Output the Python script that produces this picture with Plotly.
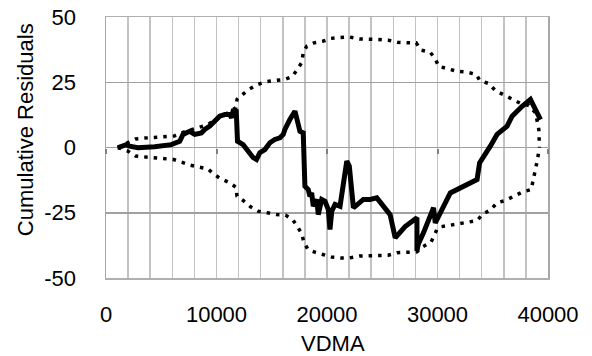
import plotly.graph_objects as go

# Cumulative residuals (solid line)
res_x = [1070, 1830, 2130, 2880, 4400, 5910, 6670, 6970, 7570, 8030, 8630, 8930, 9390, 9840,
         10290, 10750, 11200, 11360, 11500, 11790, 11900, 12410, 12860, 13320, 13620, 13920,
         14380, 14830, 15280, 15740, 16040, 16190, 16640, 17100, 17250, 17550, 17850, 18000,
         18300, 18460, 18610, 18760, 19070, 19210, 19520, 19820, 20120, 20270, 20430, 20730,
         21180, 21480, 21790, 22020, 22390, 23290, 23900, 24510, 25710, 26170, 27070, 28140,
         28140, 28250, 28730, 29640, 29800, 30550, 31160, 33580, 33810, 34780, 35390, 36300,
         36750, 37660, 38410, 39320]
res_y = [-0.1, 1.1, 0.5, -0.1, 0.3, 1.1, 2.4, 5.0, 6.2, 5.0, 5.6, 6.9, 8.2, 10.1,
         12.0, 12.6, 12.6, 11.4, 13.9, 13.8, 2.4, 1.1, -1.4, -3.9, -4.6, -2.0,
         -0.8, 1.8, 3.1, 3.7, 5.0, 6.9, 10.7, 13.9, 11.4, 6.2, 5.6, -14.8,
         -16.1, -18.7, -17.4, -22.5, -19.9, -25.7, -19.9, -20.6, -23.8, -31.4, -24.4, -21.8,
         -22.5, -14.8, -5.2, -7.2, -23.1, -19.9, -19.9, -19.3, -25.7, -34.6, -30.3, -26.9,
         -39.7, -37.2, -32.7, -23.1, -28.9, -22.5, -17.4, -12.3, -5.9, 0.5, 5.0, 8.2,
         12.0, 15.8, 18.4, 10.7]

# Upper bound (dotted)
up_x = [1070, 2680, 3490, 4400, 5310, 6170, 6820, 7570, 8420, 9230, 10140, 11050, 11750,
        11860, 12350, 13020, 13680, 14470, 15350, 16190, 16890, 17310, 17710, 17850, 18160,
        18820, 19610, 20340, 21120, 21930, 22930, 23810, 24650, 25560, 26380, 27230, 28070,
        28500, 29340, 29800, 30100, 30910, 31760, 32610, 33510, 33810, 34630, 35240, 35940,
        36660, 37510, 38260, 38870, 39020, 39170, 39200, 39230]
up_y = [0, 3.3, 3.6, 3.9, 4.1, 4.4, 5.6, 6.6, 7.5, 8.8, 11.4, 13.3, 15.2,
        18.4, 20.3, 22.5, 24.1, 25.2, 25.7, 26.1, 27.3, 29.9, 32.5, 36.3, 38.8,
        40.1, 40.7, 41.8, 42.1, 42.4, 41.6, 41.6, 41.4, 41.1, 40.3, 40.1, 40.1,
        37.3, 36.5, 34.0, 31.1, 30.2, 29.2, 28.9, 28.0, 25.8, 24.5, 21.8, 20.3,
        18.7, 16.9, 16.1, 13.3, 10.1, 6.9, 3.1, 0]

# Lower bound (dotted)
lo_x = [1070, 1980, 2680, 3520, 4430, 5310, 6120, 6850, 7640, 8420, 9230, 9780, 10360,
        11050, 11750, 11860, 12410, 13080, 13770, 14590, 15440, 16250, 16890, 17340, 17710,
        17910, 18280, 18960, 19730, 20430, 21210, 22040, 22920, 23810, 24650, 25530, 26350,
        27230, 28140, 28680, 29410, 29950, 30250, 31000, 31910, 32760, 33580, 34120, 34780,
        35390, 36140, 36900, 37660, 38480, 38660, 38870, 39020, 39230]
lo_y = [0, -1.4, -3.3, -3.6, -3.9, -4.2, -4.6, -5.6, -6.8, -7.5, -8.2, -10.3, -11.9,
        -13.2, -15.2, -18.7, -20.3, -22.7, -24.4, -25.0, -25.7, -25.9, -27.6, -30.4, -33.0,
        -36.3, -39.1, -40.2, -41.0, -42.0, -42.3, -42.3, -41.6, -41.6, -41.6, -41.3, -40.3,
        -40.1, -40.0, -38.0, -36.3, -31.4, -30.4, -29.9, -29.2, -28.6, -28.0, -25.4, -24.0,
        -21.2, -20.3, -18.7, -17.1, -16.1, -12.5, -9.1, -5.2, 0]

x_ticks = [0, 10000, 20000, 30000, 40000]
y_ticks = [-50, -25, 0, 25, 50]
x_title = "VDMA"
y_title = "Cumulative Residuals"

FONT = "Liberation Sans"
FS = 22
dot = dict(color="black", width=3.5, dash="3.5px,6px")

fig = go.Figure()
fig.add_trace(go.Scatter(x=up_x, y=up_y, mode="lines", line=dot, hoverinfo="skip"))
fig.add_trace(go.Scatter(x=lo_x, y=lo_y, mode="lines", line=dot, hoverinfo="skip"))
fig.add_trace(go.Scatter(x=res_x, y=res_y, mode="lines",
                         line=dict(color="black", width=5)))
fig.add_trace(go.Scatter(x=[0, 40000], y=[0, 0], xaxis="x2", mode="lines",
                         line=dict(width=0), hoverinfo="skip", showlegend=False))

fig.update_layout(
    width=592, height=356,
    margin=dict(l=106, r=44, t=17, b=78, autoexpand=False),
    paper_bgcolor="white", plot_bgcolor="white",
    showlegend=False,
    font=dict(family=FONT, size=FS, color="black"),
    xaxis=dict(range=[0, 40000], tickvals=x_ticks, ticktext=[str(v) for v in x_ticks],
               showgrid=True, gridcolor="#c3c3c3", gridwidth=1.5,
               minor=dict(dtick=2000, showgrid=True, gridcolor="#c3c3c3", gridwidth=1.5),
               zeroline=False, showline=True, mirror=True, linecolor="#b0b0b0", linewidth=1.5,
               ticks="", ticklabelstandoff=16, automargin=False,
               ticklabeloverflow="allow"),
    yaxis=dict(range=[-50, 50], tickvals=y_ticks, ticktext=[str(v) for v in y_ticks],
               showgrid=True, gridcolor="#a0a0a0", gridwidth=1.5,
               zeroline=False, showline=True, mirror=True, linecolor="#a8a8a8", linewidth=1.5,
               ticks="", ticklabelstandoff=24, automargin=False,
               ticklabeloverflow="allow"),
    xaxis2=dict(overlaying="x", anchor="free", position=0.5, range=[0, 40000],
                tickvals=x_ticks, showticklabels=False, ticks="outside", ticklen=5,
                tickwidth=2, tickcolor="#808080", showgrid=False, zeroline=False,
                showline=False, automargin=False),
    annotations=[
        dict(text=x_title, xref="paper", yref="paper", x=0.514, y=-0.251,
             xanchor="center", yanchor="middle", showarrow=False,
             font=dict(family=FONT, size=FS)),
        dict(text=y_title, xref="paper", yref="paper", x=-0.183, y=0.567,
             xanchor="center", yanchor="middle", textangle=-90, showarrow=False,
             font=dict(family=FONT, size=FS)),
    ],
)

fig.write_html("out.html", config={"displayModeBar": False, "staticPlot": True},
               post_script="document.body.style.margin='0';document.body.style.padding='0';")
